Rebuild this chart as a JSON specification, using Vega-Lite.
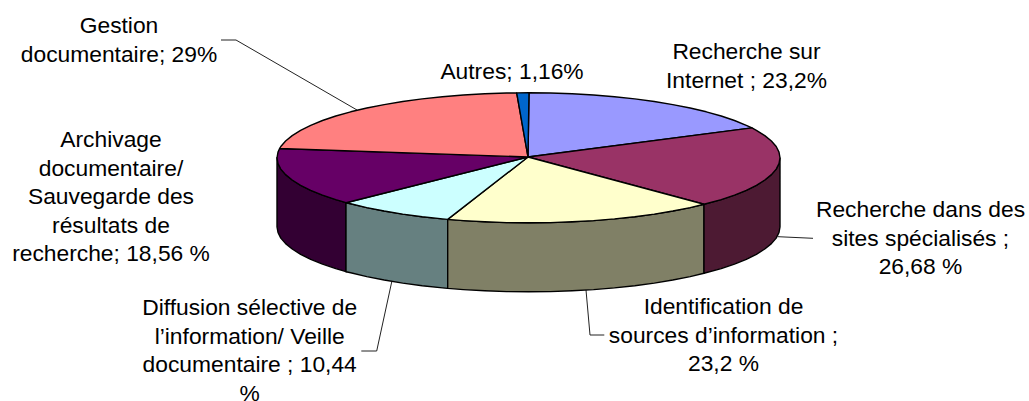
{"$schema":"https://vega.github.io/schema/vega-lite/v6.json","width":1029,"height":401,"autosize":{"type":"none"},"padding":0,"background":"white","view":{"stroke":null},
"layer":[
{"data":{"values":[
{"l":"g","i":0,"x":221,"y":40},{"l":"g","i":1,"x":236,"y":40},{"l":"g","i":2,"x":357,"y":110},
{"l":"d","i":0,"x":361.3,"y":351},{"l":"d","i":1,"x":376.7,"y":351},{"l":"d","i":2,"x":391.7,"y":282},
{"l":"n","i":0,"x":586,"y":290},{"l":"n","i":1,"x":590,"y":335},{"l":"n","i":2,"x":604.3,"y":335},
{"l":"s","i":0,"x":778,"y":236.7},{"l":"s","i":1,"x":813,"y":238.3}
]},"mark":{"type":"line","stroke":"#222222","strokeWidth":1},"encoding":{"x":{"field":"x","type":"quantitative","scale":{"domain":[0,1029]},"axis":null},"y":{"field":"y","type":"quantitative","scale":{"domain":[401,0]},"axis":null},"detail":{"field":"l"},"order":{"field":"i"}}},
{"data":{"values":[
{"f":"A side","i":0,"x":346,"y":202.7},{"f":"A side","i":1,"x":335.8,"y":199.6},{"f":"A side","i":2,"x":322.5,"y":195.1},{"f":"A side","i":3,"x":310.7,"y":190.3},{"f":"A side","i":4,"x":300.6,"y":185.3},{"f":"A side","i":5,"x":292.2,"y":180},{"f":"A side","i":6,"x":285.6,"y":174.6},{"f":"A side","i":7,"x":280.8,"y":169.1},{"f":"A side","i":8,"x":278,"y":163.5},{"f":"A side","i":9,"x":277,"y":157.8},{"f":"A side","i":10,"x":277,"y":226.8},{"f":"A side","i":11,"x":278,"y":232.5},{"f":"A side","i":12,"x":280.8,"y":238.1},{"f":"A side","i":13,"x":285.6,"y":243.6},{"f":"A side","i":14,"x":292.2,"y":249},{"f":"A side","i":15,"x":300.6,"y":254.3},{"f":"A side","i":16,"x":310.7,"y":259.3},{"f":"A side","i":17,"x":322.5,"y":264.1},{"f":"A side","i":18,"x":335.8,"y":268.6},{"f":"A side","i":19,"x":346,"y":271.7},{"f":"A side","i":20,"x":346,"y":202.7},
{"f":"D side","i":0,"x":447.7,"y":219.4},{"f":"D side","i":1,"x":442.5,"y":218.9},{"f":"D side","i":2,"x":422.2,"y":216.7},{"f":"D side","i":3,"x":402.7,"y":214.1},{"f":"D side","i":4,"x":384.2,"y":211},{"f":"D side","i":5,"x":366.8,"y":207.6},{"f":"D side","i":6,"x":350.7,"y":203.8},{"f":"D side","i":7,"x":346,"y":202.7},{"f":"D side","i":8,"x":346,"y":271.7},{"f":"D side","i":9,"x":350.7,"y":272.8},{"f":"D side","i":10,"x":366.8,"y":276.6},{"f":"D side","i":11,"x":384.2,"y":280},{"f":"D side","i":12,"x":402.7,"y":283.1},{"f":"D side","i":13,"x":422.2,"y":285.7},{"f":"D side","i":14,"x":442.5,"y":287.9},{"f":"D side","i":15,"x":447.7,"y":288.4},{"f":"D side","i":16,"x":447.7,"y":219.4},
{"f":"I side","i":0,"x":704,"y":204.3},{"f":"I side","i":1,"x":690.2,"y":207.6},{"f":"I side","i":2,"x":672.8,"y":211},{"f":"I side","i":3,"x":654.3,"y":214.1},{"f":"I side","i":4,"x":634.8,"y":216.7},{"f":"I side","i":5,"x":614.5,"y":218.9},{"f":"I side","i":6,"x":593.6,"y":220.6},{"f":"I side","i":7,"x":572.2,"y":221.8},{"f":"I side","i":8,"x":550.4,"y":222.6},{"f":"I side","i":9,"x":528.5,"y":222.8},{"f":"I side","i":10,"x":506.6,"y":222.6},{"f":"I side","i":11,"x":484.8,"y":221.8},{"f":"I side","i":12,"x":463.4,"y":220.6},{"f":"I side","i":13,"x":447.7,"y":219.4},{"f":"I side","i":14,"x":447.7,"y":288.4},{"f":"I side","i":15,"x":463.4,"y":289.6},{"f":"I side","i":16,"x":484.8,"y":290.8},{"f":"I side","i":17,"x":506.6,"y":291.6},{"f":"I side","i":18,"x":528.5,"y":291.8},{"f":"I side","i":19,"x":550.4,"y":291.6},{"f":"I side","i":20,"x":572.2,"y":290.8},{"f":"I side","i":21,"x":593.6,"y":289.6},{"f":"I side","i":22,"x":614.5,"y":287.9},{"f":"I side","i":23,"x":634.8,"y":285.7},{"f":"I side","i":24,"x":654.3,"y":283.1},{"f":"I side","i":25,"x":672.8,"y":280},{"f":"I side","i":26,"x":690.2,"y":276.6},{"f":"I side","i":27,"x":704,"y":273.3},{"f":"I side","i":28,"x":704,"y":204.3},
{"f":"S side","i":0,"x":780,"y":157.8},{"f":"S side","i":1,"x":779,"y":163.5},{"f":"S side","i":2,"x":776.2,"y":169.1},{"f":"S side","i":3,"x":771.4,"y":174.6},{"f":"S side","i":4,"x":764.8,"y":180},{"f":"S side","i":5,"x":756.4,"y":185.3},{"f":"S side","i":6,"x":746.3,"y":190.3},{"f":"S side","i":7,"x":734.5,"y":195.1},{"f":"S side","i":8,"x":721.2,"y":199.6},{"f":"S side","i":9,"x":704,"y":204.3},{"f":"S side","i":10,"x":704,"y":273.3},{"f":"S side","i":11,"x":721.2,"y":268.6},{"f":"S side","i":12,"x":734.5,"y":264.1},{"f":"S side","i":13,"x":746.3,"y":259.3},{"f":"S side","i":14,"x":756.4,"y":254.3},{"f":"S side","i":15,"x":764.8,"y":249},{"f":"S side","i":16,"x":771.4,"y":243.6},{"f":"S side","i":17,"x":776.2,"y":238.1},{"f":"S side","i":18,"x":779,"y":232.5},{"f":"S side","i":19,"x":780,"y":226.8},{"f":"S side","i":20,"x":780,"y":157.8},
{"f":"R top","i":0,"x":528,"y":157},{"f":"R top","i":1,"x":529,"y":92.8},{"f":"R top","i":2,"x":550.4,"y":93},{"f":"R top","i":3,"x":572.2,"y":93.8},{"f":"R top","i":4,"x":593.6,"y":95},{"f":"R top","i":5,"x":614.5,"y":96.7},{"f":"R top","i":6,"x":634.8,"y":98.9},{"f":"R top","i":7,"x":654.3,"y":101.5},{"f":"R top","i":8,"x":672.8,"y":104.6},{"f":"R top","i":9,"x":690.2,"y":108},{"f":"R top","i":10,"x":706.3,"y":111.8},{"f":"R top","i":11,"x":721.2,"y":116},{"f":"R top","i":12,"x":734.5,"y":120.5},{"f":"R top","i":13,"x":746.3,"y":125.3},{"f":"R top","i":14,"x":752,"y":127.9},{"f":"R top","i":15,"x":528,"y":157},
{"f":"S top","i":0,"x":528,"y":157},{"f":"S top","i":1,"x":752,"y":127.9},{"f":"S top","i":2,"x":756.4,"y":130.3},{"f":"S top","i":3,"x":764.8,"y":135.6},{"f":"S top","i":4,"x":771.4,"y":141},{"f":"S top","i":5,"x":776.2,"y":146.5},{"f":"S top","i":6,"x":779,"y":152.1},{"f":"S top","i":7,"x":780,"y":157.8},{"f":"S top","i":8,"x":779,"y":163.5},{"f":"S top","i":9,"x":776.2,"y":169.1},{"f":"S top","i":10,"x":771.4,"y":174.6},{"f":"S top","i":11,"x":764.8,"y":180},{"f":"S top","i":12,"x":756.4,"y":185.3},{"f":"S top","i":13,"x":746.3,"y":190.3},{"f":"S top","i":14,"x":734.5,"y":195.1},{"f":"S top","i":15,"x":721.2,"y":199.6},{"f":"S top","i":16,"x":704,"y":204.3},{"f":"S top","i":17,"x":528,"y":157},
{"f":"I top","i":0,"x":528,"y":157},{"f":"I top","i":1,"x":704,"y":204.3},{"f":"I top","i":2,"x":690.2,"y":207.6},{"f":"I top","i":3,"x":672.8,"y":211},{"f":"I top","i":4,"x":654.3,"y":214.1},{"f":"I top","i":5,"x":634.8,"y":216.7},{"f":"I top","i":6,"x":614.5,"y":218.9},{"f":"I top","i":7,"x":593.6,"y":220.6},{"f":"I top","i":8,"x":572.2,"y":221.8},{"f":"I top","i":9,"x":550.4,"y":222.6},{"f":"I top","i":10,"x":528.5,"y":222.8},{"f":"I top","i":11,"x":506.6,"y":222.6},{"f":"I top","i":12,"x":484.8,"y":221.8},{"f":"I top","i":13,"x":463.4,"y":220.6},{"f":"I top","i":14,"x":447.7,"y":219.4},{"f":"I top","i":15,"x":528,"y":157},
{"f":"D top","i":0,"x":528,"y":157},{"f":"D top","i":1,"x":447.7,"y":219.4},{"f":"D top","i":2,"x":442.5,"y":218.9},{"f":"D top","i":3,"x":422.2,"y":216.7},{"f":"D top","i":4,"x":402.7,"y":214.1},{"f":"D top","i":5,"x":384.2,"y":211},{"f":"D top","i":6,"x":366.8,"y":207.6},{"f":"D top","i":7,"x":350.7,"y":203.8},{"f":"D top","i":8,"x":346,"y":202.7},{"f":"D top","i":9,"x":528,"y":157},
{"f":"A top","i":0,"x":528,"y":157},{"f":"A top","i":1,"x":346,"y":202.7},{"f":"A top","i":2,"x":335.8,"y":199.6},{"f":"A top","i":3,"x":322.5,"y":195.1},{"f":"A top","i":4,"x":310.7,"y":190.3},{"f":"A top","i":5,"x":300.6,"y":185.3},{"f":"A top","i":6,"x":292.2,"y":180},{"f":"A top","i":7,"x":285.6,"y":174.6},{"f":"A top","i":8,"x":280.8,"y":169.1},{"f":"A top","i":9,"x":278,"y":163.5},{"f":"A top","i":10,"x":277,"y":157.8},{"f":"A top","i":11,"x":278,"y":152.1},{"f":"A top","i":12,"x":279.6,"y":148.5},{"f":"A top","i":13,"x":528,"y":157},
{"f":"G top","i":0,"x":528,"y":157},{"f":"G top","i":1,"x":279.6,"y":148.5},{"f":"G top","i":2,"x":280.8,"y":146.5},{"f":"G top","i":3,"x":285.6,"y":141},{"f":"G top","i":4,"x":292.2,"y":135.6},{"f":"G top","i":5,"x":300.6,"y":130.3},{"f":"G top","i":6,"x":310.7,"y":125.3},{"f":"G top","i":7,"x":322.5,"y":120.5},{"f":"G top","i":8,"x":335.8,"y":116},{"f":"G top","i":9,"x":350.7,"y":111.8},{"f":"G top","i":10,"x":366.8,"y":108},{"f":"G top","i":11,"x":384.2,"y":104.6},{"f":"G top","i":12,"x":402.7,"y":101.5},{"f":"G top","i":13,"x":422.2,"y":98.9},{"f":"G top","i":14,"x":442.5,"y":96.7},{"f":"G top","i":15,"x":463.4,"y":95},{"f":"G top","i":16,"x":484.8,"y":93.8},{"f":"G top","i":17,"x":506.6,"y":93},{"f":"G top","i":18,"x":516.7,"y":92.9},{"f":"G top","i":19,"x":528,"y":157},
{"f":"U top","i":0,"x":528,"y":157},{"f":"U top","i":1,"x":516.7,"y":92.9},{"f":"U top","i":2,"x":529,"y":92.8},{"f":"U top","i":3,"x":528,"y":157}
]},"mark":{"type":"line","stroke":"#000000","strokeWidth":1.4,"strokeJoin":"round"},"encoding":{"x":{"field":"x","type":"quantitative","scale":{"domain":[0,1029]},"axis":null},"y":{"field":"y","type":"quantitative","scale":{"domain":[401,0]},"axis":null},"detail":{"field":"f"},"order":{"field":"i"},"fill":{"field":"f","type":"nominal","legend":null,"scale":{"domain":["A side","D side","I side","S side","R top","S top","I top","D top","A top","G top","U top"],"range":["#330033","#668080","#808066","#4D1A33","#9999FF","#993366","#FFFFCC","#CCFFFF","#660066","#FF8080","#0066CC"]}}}},
{"data":{"values":[
{"t":["Gestion","documentaire; 29%"],"x":119,"y":33},
{"t":["Autres; 1,16%"],"x":512,"y":79},
{"t":["Recherche sur","Internet ; 23,2%"],"x":746.5,"y":59},
{"t":["Archivage","documentaire/","Sauvegarde des","résultats de","recherche; 18,56 %"],"x":111,"y":147},
{"t":["Recherche dans des","sites spécialisés ;","26,68 %"],"x":920.5,"y":217},
{"t":["Identification de","sources d’information ;","23,2 %"],"x":723.5,"y":314},
{"t":["Diffusion sélective de","l’information/ Veille","documentaire ; 10,44","%"],"x":249.7,"y":315}
]},"mark":{"type":"text","font":"Liberation Sans","fontSize":22.8,"lineHeight":28.6,"align":"center","baseline":"alphabetic","color":"#000000"},"encoding":{"x":{"field":"x","type":"quantitative","scale":{"domain":[0,1029]},"axis":null},"y":{"field":"y","type":"quantitative","scale":{"domain":[401,0]},"axis":null},"text":{"field":"t"}}}
]}
